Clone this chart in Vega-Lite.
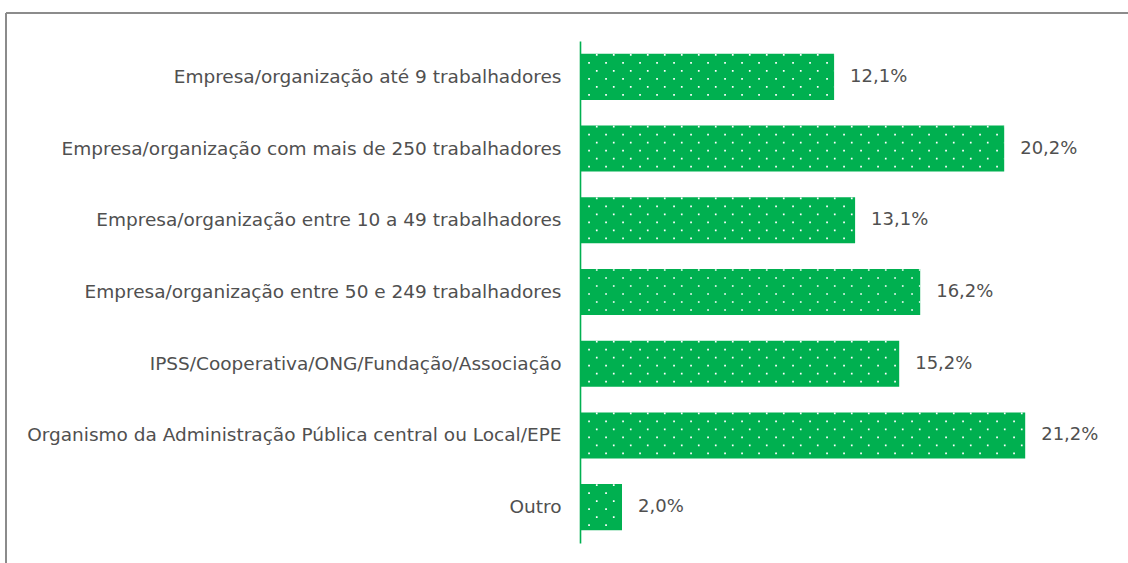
{
  "$schema": "https://vega.github.io/schema/vega-lite/v6.json",
  "autosize": "none",
  "padding": {"left": 580, "top": 41, "right": 23, "bottom": 20},
  "width": 525,
  "height": 502,
  "background": "white",
  "data": {
    "values": [
      {"cat": "Empresa/organização até 9 trabalhadores", "pct": 0.121},
      {"cat": "Empresa/organização com mais de 250 trabalhadores", "pct": 0.202},
      {"cat": "Empresa/organização entre 10 a 49 trabalhadores", "pct": 0.131},
      {"cat": "Empresa/organização entre 50 e 249 trabalhadores", "pct": 0.162},
      {"cat": "IPSS/Cooperativa/ONG/Fundação/Associação", "pct": 0.152},
      {"cat": "Organismo da Administração Pública central ou Local/EPE", "pct": 0.212},
      {"cat": "Outro", "pct": 0.02}
    ]
  },
  "encoding": {
    "y": {
      "field": "cat",
      "type": "nominal",
      "sort": null,
      "scale": {"paddingInner": 0.358, "paddingOuter": 0.179, "round": false},
      "axis": {
        "title": null,
        "ticks": false,
        "labelPadding": 19,
        "labelFontSize": 18.5,
        "labelFont": "DejaVu Sans",
        "labelColor": "#505050",
        "labelLimit": 0,
        "domainColor": "#00B050",
        "domainWidth": 1.6,
        "zindex": 1
      }
    },
    "x": {
      "field": "pct",
      "type": "quantitative",
      "scale": {"domain": [0, 0.25], "nice": false, "zero": true},
      "axis": null
    }
  },
  "layer": [
    {"mark": {"type": "bar", "color": "#00B050"}},
    {
      "mark": {"type": "rule", "color": "white", "strokeWidth": 1.7, "strokeDash": [1.7, 15.3], "strokeDashOffset": 1.1, "yOffset": -22},
      "encoding": {"x": {"datum": 0, "type": "quantitative"}, "x2": {"field": "pct"}}
    },
    {
      "mark": {"type": "rule", "color": "white", "strokeWidth": 1.7, "strokeDash": [1.7, 15.3], "strokeDashOffset": 8.8, "yOffset": -14},
      "encoding": {"x": {"datum": 0, "type": "quantitative"}, "x2": {"field": "pct"}}
    },
    {
      "mark": {"type": "rule", "color": "white", "strokeWidth": 1.7, "strokeDash": [1.7, 15.3], "strokeDashOffset": 1.1, "yOffset": -6},
      "encoding": {"x": {"datum": 0, "type": "quantitative"}, "x2": {"field": "pct"}}
    },
    {
      "mark": {"type": "rule", "color": "white", "strokeWidth": 1.7, "strokeDash": [1.7, 15.3], "strokeDashOffset": 8.8, "yOffset": 2},
      "encoding": {"x": {"datum": 0, "type": "quantitative"}, "x2": {"field": "pct"}}
    },
    {
      "mark": {"type": "rule", "color": "white", "strokeWidth": 1.7, "strokeDash": [1.7, 15.3], "strokeDashOffset": 1.1, "yOffset": 10},
      "encoding": {"x": {"datum": 0, "type": "quantitative"}, "x2": {"field": "pct"}}
    },
    {
      "mark": {"type": "rule", "color": "white", "strokeWidth": 1.7, "strokeDash": [1.7, 15.3], "strokeDashOffset": 8.8, "yOffset": 18},
      "encoding": {"x": {"datum": 0, "type": "quantitative"}, "x2": {"field": "pct"}}
    },
    {
      "mark": {"type": "text", "align": "left", "baseline": "middle", "dx": 16, "fontSize": 18, "font": "DejaVu Sans", "color": "#505050"},
      "encoding": {"text": {"field": "pct", "type": "quantitative", "format": ".1%"}}
    },
    {
      "mark": {"type": "rule", "color": "#8c8c8c", "strokeWidth": 1.6},
      "encoding": {
        "x": {"datum": -0.27333, "type": "quantitative"},
        "x2": {"datum": 0.27},
        "y": {"datum": "Empresa/organização até 9 trabalhadores", "bandPosition": -0.887}
      }
    },
    {
      "mark": {"type": "rule", "color": "#8c8c8c", "strokeWidth": 1.6},
      "encoding": {
        "x": {"datum": -0.27333, "type": "quantitative"},
        "y": {"datum": "Empresa/organização até 9 trabalhadores", "bandPosition": -0.887},
        "y2": {"datum": "Outro", "bandPosition": 2}
      }
    }
  ],
  "config": {
    "view": {"stroke": null},
    "locale": {"number": {"decimal": ",", "thousands": ".", "grouping": [3], "currency": ["", " €"]}}
  }
}
